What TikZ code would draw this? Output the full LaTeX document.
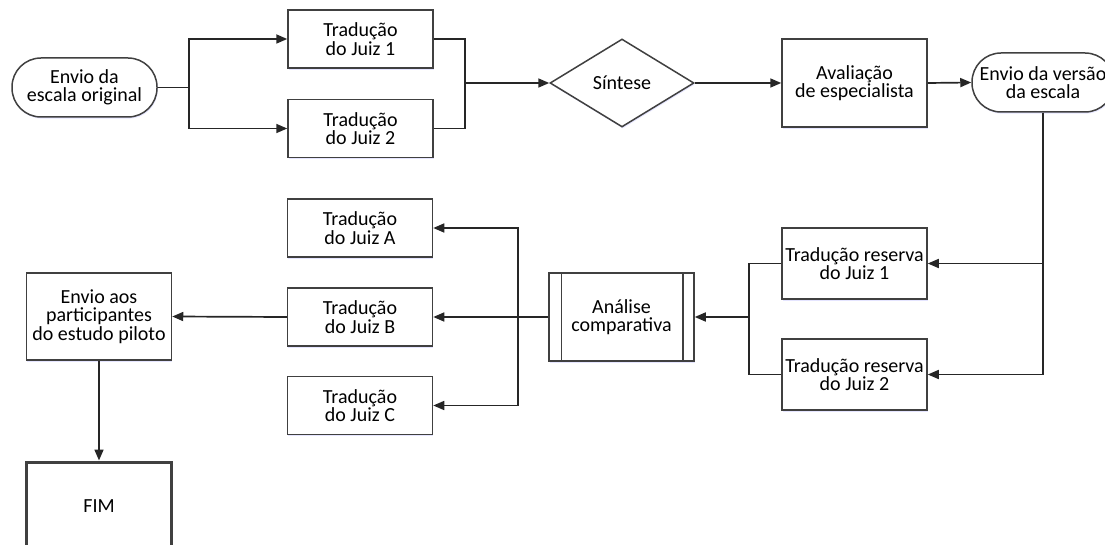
\documentclass[tikz,border=0pt]{standalone}
\usepackage{fontspec}
\setmainfont{Carlito}
\usepackage{tikz}
\usetikzlibrary{arrows.meta,positioning,shapes.geometric,shadows}

\begin{document}
\begin{tikzpicture}[x=1pt,y=-1pt,
  font=\fontsize{20}{18.3}\selectfont,
  caixa/.style={draw=black!75, line width=1.5pt, fill=white, align=center, inner sep=0pt,
    minimum width=145pt, minimum height=58pt,
    drop shadow={shadow xshift=0.8pt, shadow yshift=-1.6pt, fill=blue!25, opacity=0.4}},
  terminal/.style={caixa, rounded corners=29pt, minimum height=59pt},
  decisao/.style={caixa, diamond, minimum width=144pt, minimum height=88pt},
  linha/.style={black!85, line width=1.7pt},
  seta/.style={linha, -{Triangle[length=11pt,width=9pt]}}]
  \useasboundingbox (0,0) rectangle (1105,545);

  % linha de cima
  \node[terminal] (inicio) at (84.5,87.5) {Envio da\\escala original};
  \node[caixa] (juiz1) at (360.5,39) {Tradução\\do Juiz 1};
  \node[caixa] (juiz2) at (360.5,128.5) {Tradução\\do Juiz 2};
  \node[decisao] (sintese) at (622,83) {Síntese};
  \node[caixa, minimum height=88pt] (aval) at (854.5,83) {Avaliação\\de especialista};
  \node[terminal, minimum width=142pt] (versao) at (1043,82.5) {Envio da versão\\da escala};

  % retrotradução
  \node[caixa, minimum height=71pt] (reserva1) at (854.5,263.5) {Tradução reserva\\do Juiz 1};
  \node[caixa, minimum height=71pt] (reserva2) at (854.5,374.5) {Tradução reserva\\do Juiz 2};
  \node[caixa, minimum height=88pt] (analise) at (621.5,317) {Análise\\comparativa};
  \draw[black!75, line width=1.5pt]
    ([xshift=13pt]analise.north west) -- ([xshift=13pt]analise.south west)
    ([xshift=-12pt]analise.north east) -- ([xshift=-12pt]analise.south east);

  \node[caixa] (juizA) at (360,228) {Tradução\\do Juiz A};
  \node[caixa] (juizB) at (360,317) {Tradução\\do Juiz B};
  \node[caixa] (juizC) at (360,405.5) {Tradução\\do Juiz C};
  \node[caixa, minimum height=87pt] (envio) at (99,316.5) {Envio aos\\participantes\\do estudo piloto};
  \node[caixa, minimum height=88pt, line width=3pt] (fim) at (99,506) {FIM};

  \coordinate (garfo1) at (189,87.5);
  \coordinate (junta1) at (465,83);
  \coordinate (garfo2) at (749,317);
  \coordinate (garfo3) at (518,317);

  \draw[linha] (inicio.east) -- (garfo1);
  \draw[seta] (garfo1) |- (juiz1.west);
  \draw[seta] (garfo1) |- (juiz2.west);
  \draw[linha] (juiz1.east) -| (junta1);
  \draw[linha] (juiz2.east) -| (junta1);
  \draw[seta] (junta1) -- (sintese.west);
  \draw[seta] (sintese.east) -- (aval.west);
  \draw[seta] (aval.east) -- (versao.west);

  \draw[seta] (versao.south) |- (reserva1.east);
  \draw[seta] (versao.south) |- (reserva2.east);
  \draw[linha] (reserva1.west) -| (garfo2);
  \draw[linha] (reserva2.west) -| (garfo2);
  \draw[seta] (garfo2) -- (analise.east);
  \draw[seta] (analise.west) -- (juizB.east);
  \draw[seta] (garfo3) |- (juizA.east);
  \draw[seta] (garfo3) |- (juizC.east);
  \draw[seta] (juizB.west) -- (envio.east);
  \draw[seta] (envio.south) -- (fim.north);
\end{tikzpicture}
\end{document}
